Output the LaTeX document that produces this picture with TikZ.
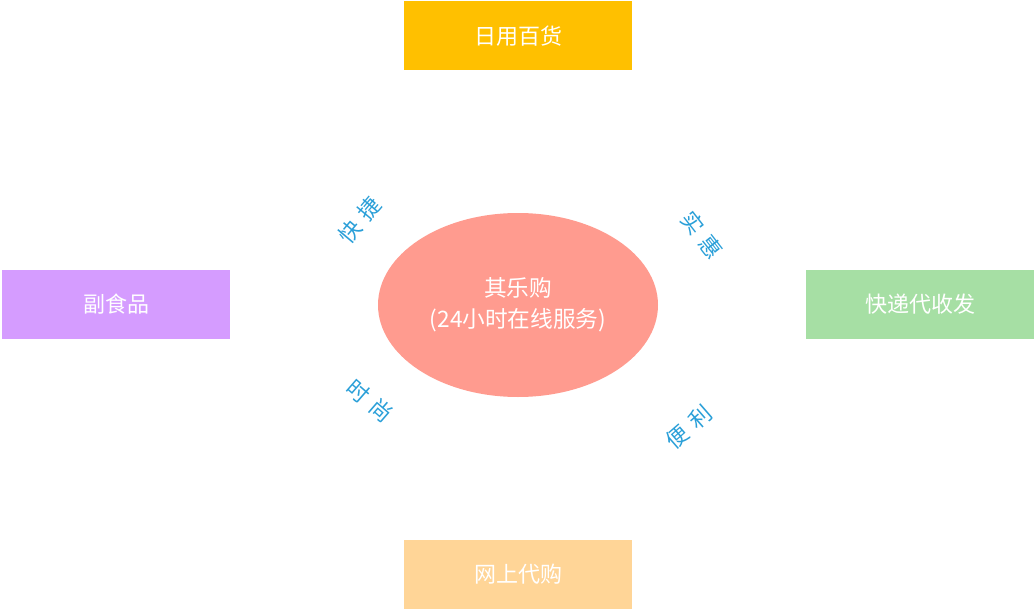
\documentclass[tikz,border=0pt]{standalone}
\usepackage{fontspec}
\setmainfont{Noto Sans CJK SC}
\usetikzlibrary{shapes.geometric}

\definecolor{hubred}{HTML}{FF9B8F}
\definecolor{topgold}{HTML}{FFC000}
\definecolor{leftlilac}{HTML}{D59CFF}
\definecolor{rightgreen}{HTML}{A6DFA4}
\definecolor{bottomsand}{HTML}{FFD597}
\definecolor{tagblue}{HTML}{2A9FD8}

\begin{document}
\begin{tikzpicture}[x=0.75pt,y=-0.75pt,font=\fontsize{16.5}{21}\selectfont]
\tikzset{
  leaf/.style={minimum width=171pt,minimum height=51.75pt,inner sep=0pt,text=white},
  tag/.style={text=tagblue,inner sep=1pt}
}
\useasboundingbox (0,0) rectangle (1036,610);

% Centre of the diagram.
\node[ellipse,fill=hubred,text=white,minimum width=210pt,minimum height=138pt,
      inner sep=0pt,align=center,font=\fontsize{17}{23}\selectfont] (hub) at (518,305)
      {其乐购\\(24小时在线服务)};

% Four product boxes.
\node[leaf,fill=topgold]    (daily)   at (518,36)  {日用百货};
\node[leaf,fill=leftlilac]  (snack)   at (116,304) {副食品};
\node[leaf,fill=rightgreen] (express) at (920,304) {快递代收发};
\node[leaf,fill=bottomsand] (online)  at (518,574) {网上代购};

% Slanted keywords round the ellipse.
\foreach \p/\ang/\a/\b/\nm in {{(360,220)}/50/快/捷/fast,{(702,235)}/-52/实/惠/cheap,
                               {(370,401)}/-41/时/尚/trend,{(689,427)}/41/便/利/handy}{
  \node[tag,rotate=\ang] (\nm) at \p {\a\hspace{6pt}\b};
}
\end{tikzpicture}
\end{document}
